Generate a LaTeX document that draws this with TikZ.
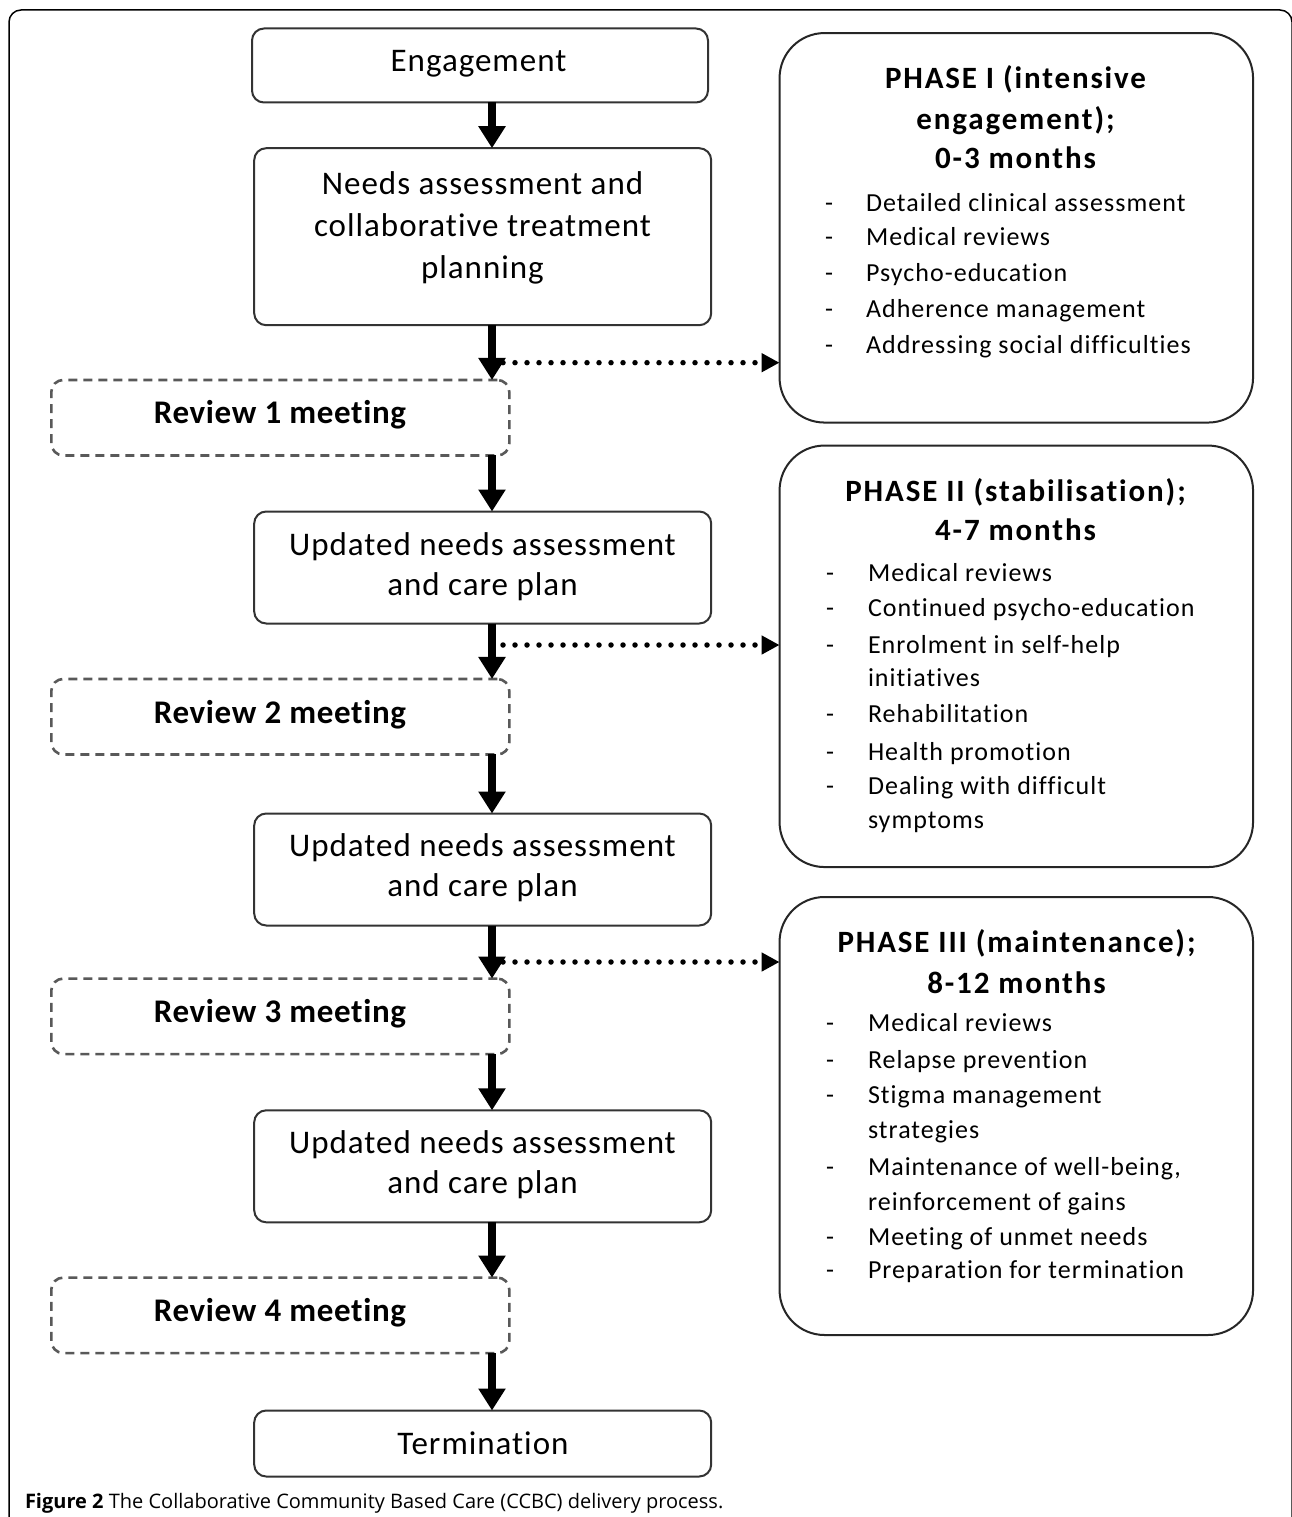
\documentclass[tikz,border=0pt]{standalone}
\usepackage{fontspec}
\setmainfont{Carlito}[LetterSpace=3, Ligatures=NoCommon]
\newfontfamily\itemfont{Carlito}[LetterSpace=4, Ligatures=NoCommon]
\newfontfamily\revfont{Carlito}[LetterSpace=2, Ligatures=NoCommon]
\newfontfamily\titlefont{Carlito}[LetterSpace=6, Ligatures=NoCommon]
\newfontfamily\capfont{Open Sans}
\usetikzlibrary{arrows.meta}
\begin{document}
\begin{tikzpicture}[x=1pt,y=-1pt,
  every node/.style={inner sep=0pt, outer sep=0pt},
  flowbox/.style={draw=black!80, line width=2pt, rounded corners=12pt},
  revbox/.style={draw=black!65, line width=2.6pt, dash pattern=on 9pt off 6pt, rounded corners=12pt},
  phasebox/.style={draw=black!85, line width=2pt, rounded corners=45pt},
  maintext/.style={anchor=base, font=\fontsize{33}{40}\selectfont},
  revtext/.style={anchor=base, font=\revfont\bfseries\fontsize{33}{40}\selectfont},
  titletext/.style={anchor=base, font=\titlefont\bfseries\fontsize{31}{40}\selectfont},
  itemtext/.style={anchor=base west, font=\itemfont\fontsize{26}{30}\selectfont},
  dashtext/.style={anchor=base, font=\itemfont\fontsize{26}{30}\selectfont},
  flow/.style={line width=8pt, -{Triangle[width=26pt,length=22pt]}},
  dotflow/.style={line width=5.5pt, line cap=round, dash pattern=on 0pt off 12pt, -{Triangle[width=18pt,length=18pt]}},
]
\useasboundingbox (0,0) rectangle (1292,1517);
\fill[white] (0,0) rectangle (1292,1517);
% outer frame
\draw[line width=1.5pt, rounded corners=12pt] (9,1530) -- (9,10) -- (1292,10) -- (1292,1530);

% flow boxes
\node[flowbox, minimum width=456pt, minimum height=74pt] (eng) at (480,65.5) {};
\node[flowbox, minimum width=457pt, minimum height=177pt] (needs) at (482.7,236.7) {};
\node[revbox, minimum width=458pt, minimum height=75.5pt] (rev1) at (280.3,417.7) {};
\node[flowbox, minimum width=457pt, minimum height=112pt] (upd1) at (482.7,567.5) {};
\node[revbox, minimum width=458pt, minimum height=75.5pt] (rev2) at (280.3,716.7) {};
\node[flowbox, minimum width=457pt, minimum height=112pt] (upd2) at (482.7,869.5) {};
\node[revbox, minimum width=458pt, minimum height=75.5pt] (rev3) at (280.3,1016.3) {};
\node[flowbox, minimum width=457pt, minimum height=112pt] (upd3) at (482.7,1166.3) {};
\node[revbox, minimum width=458pt, minimum height=75.5pt] (rev4) at (280.3,1315.3) {};
\node[flowbox, minimum width=457pt, minimum height=66pt] (term) at (482.7,1443.5) {};

% flow texts
\node[maintext] (engt) at (478.5,71.7) {Engagement};
\node[maintext] (needst1) at (482.5,195) {Needs assessment and};
\node[maintext] (needst2) at (482.5,236.7) {collaborative treatment};
\node[maintext] (needst3) at (482.5,278.3) {planning};
\node[revtext] (rev1t) at (280,423.3) {Review 1 meeting};
\node[maintext] (upd1ta) at (482.5,555.7) {Updated needs assessment};
\node[maintext] (upd1tb) at (482.5,595) {and care plan};
\node[revtext] (rev2t) at (280,723.3) {Review 2 meeting};
\node[maintext] (upd2ta) at (482.5,856.7) {Updated needs assessment};
\node[maintext] (upd2tb) at (482.5,896.2) {and care plan};
\node[revtext] (rev3t) at (280,1022.3) {Review 3 meeting};
\node[maintext] (upd3ta) at (482.5,1153.7) {Updated needs assessment};
\node[maintext] (upd3tb) at (482.5,1193) {and care plan};
\node[revtext] (rev4t) at (280,1321.3) {Review 4 meeting};
\node[maintext] (termt) at (483,1454) {Termination};

% phase boxes
\node[phasebox, minimum width=473.5pt, minimum height=389.5pt] (p1) at (1016.3,227.8) {};
\node[phasebox, minimum width=473.5pt, minimum height=421.5pt] (p2) at (1016.3,656.3) {};
\node[phasebox, minimum width=473.5pt, minimum height=438pt] (p3) at (1016.3,1116) {};

% phase titles
\node[titletext] (p1ta) at (1015.5,89) {PHASE I (intensive};
\node[titletext] (p1tb) at (1015.5,129.5) {engagement);};
\node[titletext] (p1tc) at (1015.5,169) {0-3 months};
\node[titletext] (p2ta) at (1015.5,501.7) {PHASE II (stabilisation);};
\node[titletext] (p2tb) at (1015.5,540.5) {4-7 months};
\node[titletext] (p3ta) at (1016.5,952.3) {PHASE III (maintenance);};
\node[titletext] (p3tb) at (1016.5,993.3) {8-12 months};

% phase items
\foreach \n/\yy/\txt/\dsh in {
  a/211.7/Detailed clinical assessment/1,
  b/245/Medical reviews/1,
  c/281.7/Psycho-education/1,
  d/317.3/Adherence management/1,
  e/353.3/Addressing social difficulties/1}{
  \node[itemtext] (p1i\n) at (866,\yy) {\txt};
  \ifnum\dsh=1 \node[dashtext] (p1d\n) at (829,\yy) {-};\fi
}
\foreach \n/\yy/\txt/\dsh in {
  a/581.7/Medical reviews/1,
  b/616.7/Continued psycho-education/1,
  c/653.3/Enrolment in self-help/1,
  d/686.7/initiatives/0,
  e/722.3/Rehabilitation/1,
  f/760/Health promotion/1,
  g/794.3/Dealing with difficult/1,
  h/828.3/symptoms/0}{
  \node[itemtext] (p2i\n) at (868,\yy) {\txt};
  \ifnum\dsh=1 \node[dashtext] (p2d\n) at (830,\yy) {-};\fi
}
\foreach \n/\yy/\txt/\dsh in {
  a/1031.7/Medical reviews/1,
  b/1068.3/Relapse prevention/1,
  c/1103.3/Stigma management/1,
  d/1138.3/strategies/0,
  e/1175/{Maintenance of well-being,}/1,
  f/1210/reinforcement of gains/0,
  g/1245/Meeting of unmet needs/1,
  h/1278.3/Preparation for termination/1}{
  \node[itemtext] (p3i\n) at (868,\yy) {\txt};
  \ifnum\dsh=1 \node[dashtext] (p3d\n) at (830,\yy) {-};\fi
}

% flow arrows
\coordinate (ax) at (492,0);
\draw[flow] (eng.south -| ax) -- (needs.north -| ax);
\draw[flow] (needs.south -| ax) -- (rev1.north -| ax);
\draw[flow] (rev1.south -| ax) -- (upd1.north -| ax);
\draw[flow] (upd1.south -| ax) -- (rev2.north -| ax);
\draw[flow] (rev2.south -| ax) -- (upd2.north -| ax);
\draw[flow] (upd2.south -| ax) -- (rev3.north -| ax);
\draw[flow] (rev3.south -| ax) -- (upd3.north -| ax);
\draw[flow] (upd3.south -| ax) -- (rev4.north -| ax);
\draw[flow] (rev4.south -| ax) -- (term.north -| ax);

% dotted arrows
\coordinate (d1) at (503,362.7);
\coordinate (d2) at (503,645);
\coordinate (d3) at (503,962);
\draw[dotflow] (d1) -- (d1 -| p1.west);
\draw[dotflow] (d2) -- (d2 -| p2.west);
\draw[dotflow] (d3) -- (d3 -| p3.west);

% caption
\node[anchor=base west, font=\capfont\fontsize{20}{22}\selectfont] (cap) at (25,1508) {\textbf{Figure 2} The Collaborative Community Based Care (CCBC) delivery process.};
\end{tikzpicture}
\end{document}
